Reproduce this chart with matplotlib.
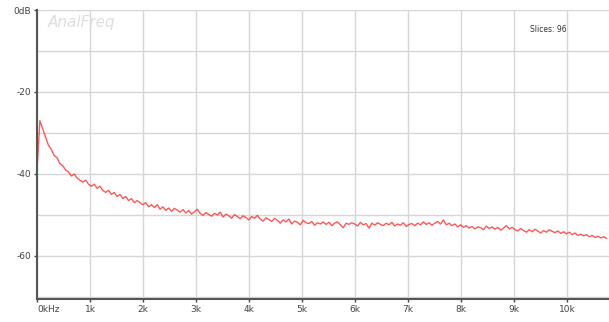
import numpy as np
import matplotlib
matplotlib.use("Agg")
import matplotlib.pyplot as plt

# Frequency bins (kHz), evenly spaced FFT bins
freq_step_khz = 0.054
levels_db = [
    -39.0, -27.0, -29.0, -31.0, -33.0, -34.0, -35.5, -36.0, -37.5, -38.0,
    -39.0, -39.5, -40.5, -40.0, -41.0, -41.5, -42.0, -41.5, -42.5, -43.0,
    -42.5, -43.5, -43.0, -44.0, -44.5, -44.0, -45.0, -44.5, -45.5, -45.0,
    -46.0, -45.5, -46.5, -46.0, -47.0, -46.5, -47.0, -47.5, -47.0, -48.0,
    -47.5,
    -48.2, -47.5, -48.6, -48.0, -48.9, -48.3, -49.1, -48.4, -48.8, -49.3,
    -48.7, -49.5, -48.9, -49.8, -49.2, -48.6, -49.6, -50.1, -49.4, -49.9,
    -50.3, -49.6, -50.0, -49.3, -50.5, -49.8, -50.2, -50.8, -49.9, -50.4,
    -50.9, -50.2, -50.6, -51.2, -50.4, -50.8, -50.1, -51.0, -51.5, -50.7,
    -51.1, -51.6, -50.8, -51.3, -52.0, -51.2, -51.7, -51.0, -52.2, -51.5,
    -51.8, -52.4, -51.3, -51.9, -52.1, -51.6, -52.5, -51.9, -52.2, -51.7,
    -52.3, -51.8, -52.6, -52.0, -51.7, -52.4, -53.1, -52.0, -52.3, -51.9,
    -52.2, -52.7, -51.8, -52.4, -52.1, -53.2, -52.0, -52.5, -51.9, -52.3,
    -52.6, -52.0, -52.4, -51.8, -52.7, -52.2, -52.5, -51.9, -52.8, -52.3,
    -52.1, -52.6, -52.0, -52.4, -51.7, -52.3, -51.9, -52.5, -52.0, -51.6,
    -52.2, -51.2, -52.4, -52.0, -52.6, -52.2, -52.9, -52.4, -53.0, -52.6,
    -53.2, -52.8, -53.4, -52.9, -53.1, -53.6, -52.7, -53.3, -52.9, -53.5,
    -53.0, -53.7, -53.2, -52.6, -53.4, -53.0, -53.6, -53.9, -53.3, -53.8,
    -54.2, -53.6, -54.1, -53.5, -53.9, -54.4, -53.8, -54.2, -53.6, -54.0,
    -54.3, -53.9, -54.5, -54.1, -54.6, -54.2, -54.8, -54.4, -55.0, -54.7,
    -55.1, -54.8, -55.3, -55.0, -55.5, -55.2, -55.6, -55.3, -55.7,
]
freqs_khz = np.arange(len(levels_db)) * freq_step_khz

x_ticks = [0, 1, 2, 3, 4, 5, 6, 7, 8, 9, 10, 11]
x_labels = ["0kHz", "1k", "2k", "3k", "4k", "5k", "6k", "7k", "8k", "9k", "10k", "11k"]
y_ticks = [0, -20, -40, -60]
y_labels = ["0dB", "-20", "-40", "-60"]

W, H = 609, 322
fig = plt.figure(figsize=(W / 100, H / 100), dpi=100)
fig.patch.set_facecolor("white")

x_max = 11.2
px_per_khz = 53.0
left_px, top_px, bottom_px = 37, 10, 299
ax = fig.add_axes([left_px / W, (H - bottom_px) / H,
                   x_max * px_per_khz / W, (bottom_px - top_px) / H])
ax.set_xlim(0, x_max)
ax.set_ylim(-70.5, 0)

ax.plot(freqs_khz, levels_db, color="#ff3b3b", lw=1.0, alpha=0.85)

# grid
ax.set_xticks(x_ticks)
ax.set_xticklabels(x_labels)
ax.set_yticks(np.arange(0, -71, -10), minor=True)
ax.set_yticks(y_ticks)
ax.set_yticklabels(y_labels)
ax.grid(True, which="both", color="#d6d6d6", lw=1.0)
ax.set_axisbelow(True)
ax.tick_params(axis="y", which="minor", length=0)
ax.tick_params(axis="both", which="major", labelsize=6.5, colors="#444444",
               length=2.5, width=1, pad=1.5)
ax.xaxis.get_majorticklabels()[0].set_horizontalalignment("left")

for s in ["top", "right"]:
    ax.spines[s].set_visible(False)
for s in ["left", "bottom"]:
    ax.spines[s].set_color("#555555")
    ax.spines[s].set_linewidth(1.5)

ax.text(0.2, -1.2, "AnalFreq", fontsize=11, style="italic",
        color="#dedede", ha="left", va="top")
fig.text(530 / W, 1 - 30 / H, "Slices: 96", fontsize=5.5, color="#333333",
         ha="left", va="center")

fig.savefig("out.png", dpi=100)
